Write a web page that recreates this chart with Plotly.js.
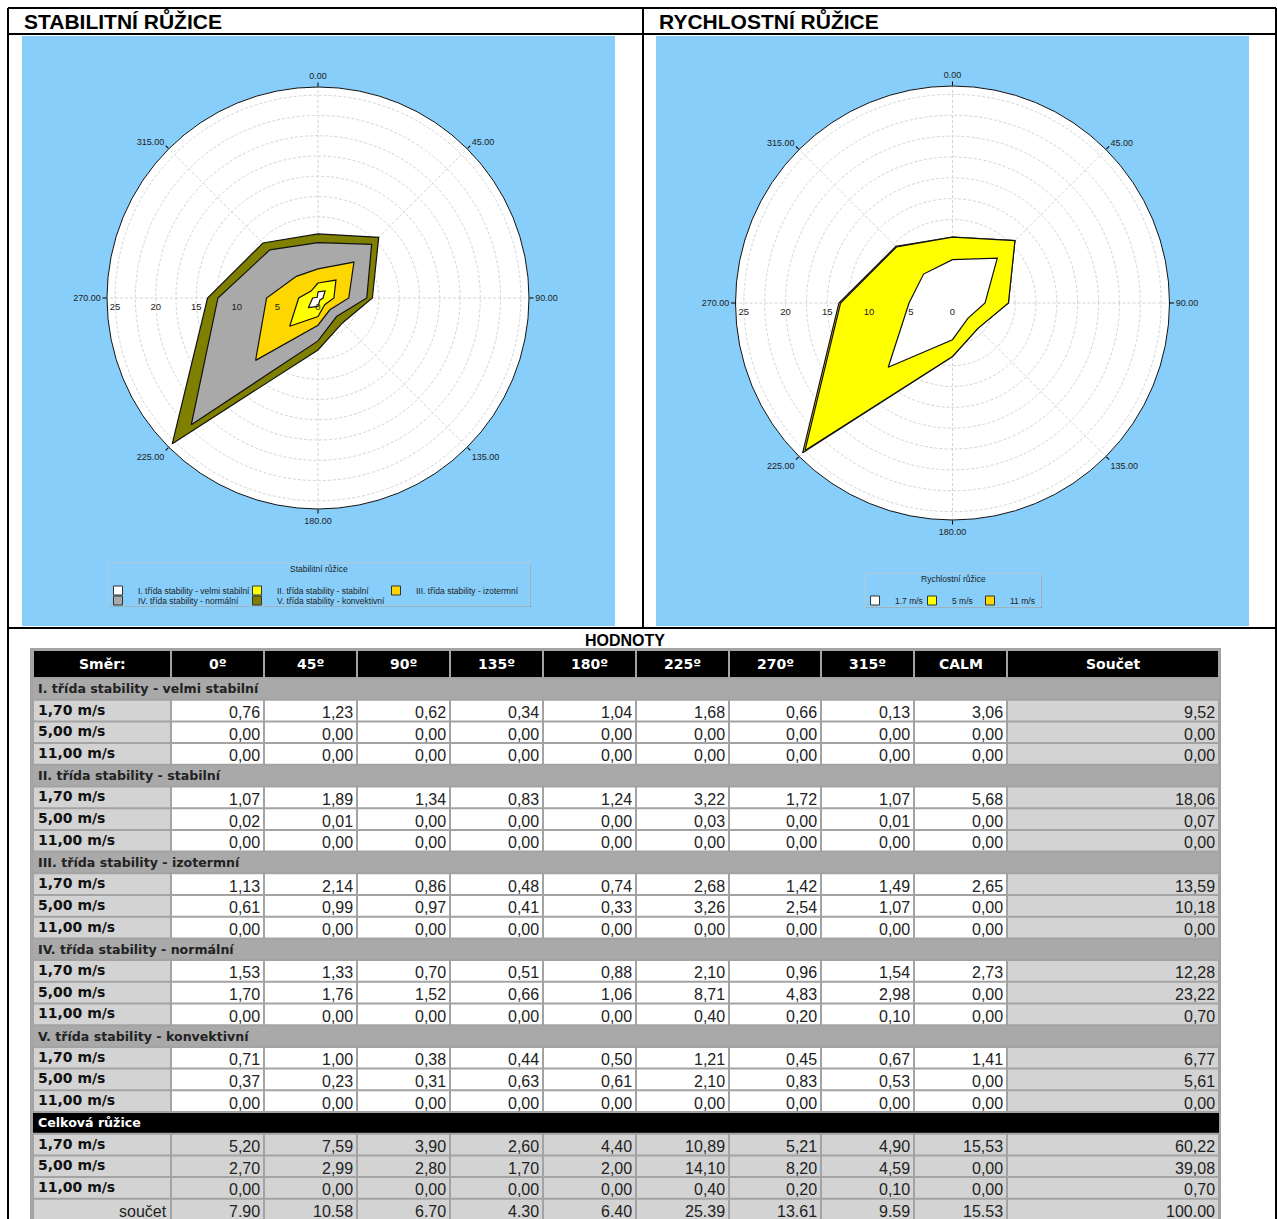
<!DOCTYPE html>
<html><head><meta charset="utf-8">
<script src="https://cdn.plot.ly/plotly-3.0.1.min.js"></script>
<style>html,body{margin:0;padding:0;background:#fff;} #chart{width:1277px;height:1219px;}</style>
</head><body><div id="chart"></div>
<script>
// ---------------- DATA ----------------
const directions = [0, 45, 90, 135, 180, 225, 270, 315];
const angularTickText = ['0.00', '45.00', '90.00', '135.00', '180.00', '225.00', '270.00', '315.00'];
const radialTickVals = [0, 2.5, 5, 7.5, 10, 12.5, 15, 17.5, 20, 22.5, 25];
const radialTickText = ['0', '', '5', '', '10', '', '15', '', '20', '', '25'];
const headerLabels = ['Směr:', '0º', '45º', '90º', '135º', '180º', '225º', '270º', '315º', 'CALM', 'Součet'];
const speedLabels = ['1,70 m/s', '5,00 m/s', '11,00 m/s'];
const speedLegend = ['1.7 m/s', '5 m/s', '11 m/s'];
const classNames = [
  'I. třída stability - velmi stabilní',
  'II. třída stability - stabilní',
  'III. třída stability - izotermní',
  'IV. třída stability - normální',
  'V. třída stability - konvektivní'
];
const stabilityTitle = 'Stabilitní růžice';
const speedTitle = 'Rychlostní růžice';
const totalName = 'Celková růžice';
const sumLabel = 'součet';
// rows: speeds 1.7, 5, 11 ; columns: 8 directions, CALM, Součet
const class1Values = [
  [0.76, 1.23, 0.62, 0.34, 1.04, 1.68, 0.66, 0.13, 3.06, 9.52],
  [0, 0, 0, 0, 0, 0, 0, 0, 0, 0],
  [0, 0, 0, 0, 0, 0, 0, 0, 0, 0]
];
const class2Values = [
  [1.07, 1.89, 1.34, 0.83, 1.24, 3.22, 1.72, 1.07, 5.68, 18.06],
  [0.02, 0.01, 0, 0, 0, 0.03, 0, 0.01, 0, 0.07],
  [0, 0, 0, 0, 0, 0, 0, 0, 0, 0]
];
const class3Values = [
  [1.13, 2.14, 0.86, 0.48, 0.74, 2.68, 1.42, 1.49, 2.65, 13.59],
  [0.61, 0.99, 0.97, 0.41, 0.33, 3.26, 2.54, 1.07, 0, 10.18],
  [0, 0, 0, 0, 0, 0, 0, 0, 0, 0]
];
const class4Values = [
  [1.53, 1.33, 0.70, 0.51, 0.88, 2.10, 0.96, 1.54, 2.73, 12.28],
  [1.70, 1.76, 1.52, 0.66, 1.06, 8.71, 4.83, 2.98, 0, 23.22],
  [0, 0, 0, 0, 0, 0.40, 0.20, 0.10, 0, 0.70]
];
const class5Values = [
  [0.71, 1.00, 0.38, 0.44, 0.50, 1.21, 0.45, 0.67, 1.41, 6.77],
  [0.37, 0.23, 0.31, 0.63, 0.61, 2.10, 0.83, 0.53, 0, 5.61],
  [0, 0, 0, 0, 0, 0, 0, 0, 0, 0]
];
const totalValues = [
  [5.20, 7.59, 3.90, 2.60, 4.40, 10.89, 5.21, 4.90, 15.53, 60.22],
  [2.70, 2.99, 2.80, 1.70, 2.00, 14.10, 8.20, 4.59, 0, 39.08],
  [0, 0, 0, 0, 0, 0.40, 0.20, 0.10, 0, 0.70]
];
const sumValues = [7.90, 10.58, 6.70, 4.30, 6.40, 25.39, 13.61, 9.59, 15.53, 100.00];

// ---------------- STYLE ----------------
const classColors = ['#ffffff', '#ffff00', '#ffd700', '#a9a9a9', '#808000'];
const speedColors = ['#ffffff', '#ffff00', '#ffd700'];
const W = 1277, H = 1219;
const px = x => x / W, py = y => 1 - y / H;
const SANS = 'Liberation Sans, Arial, sans-serif';
const TAHOMA = 'DejaVu Sans, Verdana, sans-serif';
const classValues = [class1Values, class2Values, class3Values, class4Values, class5Values];
// legend entry anchor positions (left edge of entry, top), in page pixels
const classLegendPos = [[98, 576], [237, 576], [376, 576], [98, 586], [237, 586]];
const speedLegendPos = [[855, 586], [912, 586], [970, 586]];

// ---------------- POLAR TRACES ----------------
const traces = [];
const close = a => a.concat([a[0]]);
const thetaClosed = close(directions);
const classTotals = classValues.map(cv => directions.map((d, i) => cv[0][i] + cv[1][i] + cv[2][i]));
const classCum = [];
classTotals.forEach((row, k) => classCum.push(row.map((v, i) => v + (k ? classCum[k - 1][i] : 0))));
for (let k = 4; k >= 0; k--) {
  traces.push({
    type: 'scatterpolar', subplot: 'polar', mode: 'lines', fill: 'toself',
    r: close(classCum[k]), theta: thetaClosed, name: classNames[k],
    fillcolor: classColors[k], line: {color: '#111', width: 1.2}, showlegend: false
  });
}
const legendName = i => i === 0 ? 'legend' : 'legend' + (i + 1);
classNames.forEach((n, k) => traces.push({
  type: 'scatterpolar', subplot: 'polar', mode: 'markers', r: [null], theta: [null], name: n,
  marker: {symbol: 'square', size: 9, color: classColors[k], line: {color: '#333', width: 1}},
  legend: legendName(k), hoverinfo: 'skip'
}));
const speedCum = [];
totalValues.forEach((row, s) => speedCum.push(directions.map((d, i) => row[i] + (s ? speedCum[s - 1][i] : 0))));
for (let s = 2; s >= 0; s--) {
  traces.push({
    type: 'scatterpolar', subplot: 'polar2', mode: 'lines', fill: 'toself',
    r: close(speedCum[s]), theta: thetaClosed, name: speedLegend[s],
    fillcolor: speedColors[s], line: {color: '#111', width: 1.2}, showlegend: false
  });
}
speedLegend.forEach((n, s) => traces.push({
  type: 'scatterpolar', subplot: 'polar2', mode: 'markers', r: [null], theta: [null], name: n,
  marker: {symbol: 'square', size: 9, color: speedColors[s], line: {color: '#333', width: 1}},
  legend: legendName(5 + s), hoverinfo: 'skip'
}));
traces.push({type: 'scatter', x: [30, 1221], y: [646, 1219], mode: 'markers', marker: {opacity: 0}, hoverinfo: 'skip', showlegend: false, xaxis: 'x', yaxis: 'y'});

// ---------------- POLAR LAYOUT ----------------
function polarCfg(x0, x1, y0, y1) {
  return {
    bgcolor: '#ffffff',
    domain: {x: [px(x0), px(x1)], y: [py(y1), py(y0)]},
    angularaxis: {
      direction: 'clockwise', rotation: 90, tickmode: 'array', tickvals: directions, ticktext: angularTickText,
      ticks: 'outside', ticklen: 4, tickcolor: '#000', showline: true, linecolor: '#111', linewidth: 1,
      gridcolor: '#d4d4d4', griddash: '3px,2px', tickfont: {family: SANS, size: 9, color: '#222'}
    },
    radialaxis: {
      range: [0, 26], angle: 180, tickangle: 180, side: 'counterclockwise', tickmode: 'array', tickvals: radialTickVals, ticktext: radialTickText,
      showline: false, ticks: '', gridcolor: '#d4d4d4', griddash: '3px,2px',
      tickfont: {family: SANS, size: 9.5, color: '#222'}
    }
  };
}

// ---------------- TABLE ----------------
const colEdges = [33, 171, 264, 357, 450, 543, 636, 729, 821, 914, 1007, 1219];
const headerY = [651, 677];
const rowTop = 678, rowH = 21.7;
const shapes = [];
const annotations = [];
const rect = (x0, x1, y0, y1, fill) => ({type: 'rect', xref: 'x', yref: 'y', x0, x1, y0, y1, fillcolor: fill, line: {width: 0}, layer: 'below'});
const txt = (x, y, text, font, xanchor) => ({xref: 'x', yref: 'y', x, y, text, showarrow: false, xanchor: xanchor || 'center', yanchor: 'middle', font});
const fmt = (v, sep) => v.toFixed(2).replace('.', sep);

shapes.push(rect(30, 1221, 648, 1225, '#a3a3a3'));
headerLabels.forEach((h, c) => {
  shapes.push(rect(colEdges[c] + 1, colEdges[c + 1] - 1, headerY[0], headerY[1], '#000000'));
  annotations.push(txt((colEdges[c] + colEdges[c + 1]) / 2, (headerY[0] + headerY[1]) / 2, '<b>' + h + '</b>', {family: TAHOMA, size: 14, color: '#ffffff'}));
});
let rowIndex = 0;
function sectionRow(label, fill, color) {
  const y0 = rowTop + rowIndex * rowH, y1 = y0 + rowH;
  shapes.push(rect(colEdges[0], colEdges[colEdges.length - 1], y0 + 1, y1 - 1, fill));
  annotations.push(txt(colEdges[0] + 3, (y0 + y1) / 2, '<b>' + label + '</b>', {family: TAHOMA, size: 12.6, color}, 'left'));
  rowIndex++;
}
function dataRow(label, values, allGray, sep, labelRight) {
  const y0 = rowTop + rowIndex * rowH, y1 = y0 + rowH;
  for (let c = 0; c < colEdges.length - 1; c++) {
    const fill = (c === 0 || c === colEdges.length - 2 || allGray) ? '#d3d3d3' : '#ffffff';
    shapes.push(rect(colEdges[c] + 1, colEdges[c + 1] - 1, y0 + 1, y1 - 1, fill));
  }
  if (labelRight) annotations.push(txt(colEdges[1] - 2, (y0 + y1) / 2 + 2, label, {family: SANS, size: 16, color: '#222'}, 'right'));
  else annotations.push(txt(colEdges[0] + 3, (y0 + y1) / 2 - 1, '<b>' + label + '</b>', {family: TAHOMA, size: 14, color: '#111'}, 'left'));
  values.forEach((v, i) => {
    annotations.push(txt(colEdges[i + 2] - 2, (y0 + y1) / 2 + 2, fmt(v, sep), {family: SANS, size: 16, color: '#222'}, 'right'));
  });
  rowIndex++;
}
classValues.forEach((cv, k) => {
  sectionRow(classNames[k], '#a9a9a9', '#222');
  cv.forEach((row, s) => dataRow(speedLabels[s], row, false, ','));
});
sectionRow(totalName, '#000000', '#ffffff');
totalValues.forEach((row, s) => dataRow(speedLabels[s], row, true, ','));
dataRow(sumLabel, sumValues, true, '.', true);

// ---------------- PAGE DECORATION ----------------
const paperRect = (x0, x1, y0, y1, fill, line) => ({type: 'rect', xref: 'paper', yref: 'paper', x0: px(x0), x1: px(x1), y0: py(y1), y1: py(y0), fillcolor: fill, line: line || {width: 0}, layer: 'below'});
const paperLine = (x0, y0, x1, y1) => ({type: 'line', xref: 'paper', yref: 'paper', x0: px(x0), x1: px(x1), y0: py(y0), y1: py(y1), line: {color: '#000', width: 2}, layer: 'above'});
shapes.unshift(
  paperRect(22, 615, 36, 626, '#87cefa'),
  paperRect(656, 1249, 36, 626, '#87cefa'),
  paperRect(109, 531, 564, 607, '#6f9fbd'),
  paperRect(108, 530, 563, 606, '#87cefa', {color: '#b5c9d6', width: 1}),
  paperRect(866, 1042, 574, 608, '#6f9fbd'),
  paperRect(865, 1041, 573, 607, '#87cefa', {color: '#b5c9d6', width: 1})
);
shapes.push(
  paperLine(8, 8, 1276, 8), paperLine(8, 8, 8, 1219), paperLine(1276, 8, 1276, 1219),
  paperLine(8, 34, 1276, 34), paperLine(8, 628, 1276, 628), paperLine(643, 8, 643, 628)
);
const legendFont = {family: SANS, size: 8.5, color: '#222'};
annotations.push(
  {xref: 'paper', yref: 'paper', x: px(22), y: py(20), xanchor: 'left', yanchor: 'middle', showarrow: false, text: '<b>STABILITNÍ RŮŽICE</b>', font: {family: SANS, size: 21, color: '#000'}},
  {xref: 'paper', yref: 'paper', x: px(657), y: py(20), xanchor: 'left', yanchor: 'middle', showarrow: false, text: '<b>RYCHLOSTNÍ RŮŽICE</b>', font: {family: SANS, size: 21, color: '#000'}},
  {xref: 'paper', yref: 'paper', x: px(625), y: py(640), xanchor: 'center', yanchor: 'middle', showarrow: false, text: '<b>HODNOTY</b>', font: {family: SANS, size: 16, color: '#000'}},
  {xref: 'paper', yref: 'paper', x: px(319), y: py(569), xanchor: 'center', yanchor: 'middle', showarrow: false, text: stabilityTitle, font: legendFont},
  {xref: 'paper', yref: 'paper', x: px(953), y: py(579), xanchor: 'center', yanchor: 'middle', showarrow: false, text: speedTitle, font: legendFont}
);

const layout = {
  width: W, height: H, margin: {l: 0, r: 0, t: 0, b: 0}, paper_bgcolor: '#ffffff', plot_bgcolor: 'rgba(0,0,0,0)',
  polar: polarCfg(107, 529, 87, 509),
  polar2: polarCfg(735.5, 1169.5, 86, 520),
  xaxis: {domain: [px(30), px(1221)], range: [30, 1221], visible: false, fixedrange: true},
  yaxis: {domain: [0, py(646)], range: [1219, 646], visible: false, fixedrange: true},
  shapes, annotations, showlegend: true
};
classLegendPos.concat(speedLegendPos).forEach((p, i) => {
  layout[legendName(i)] = {x: px(p[0]), y: py(p[1]), xanchor: 'left', yanchor: 'top', orientation: 'h',
    bgcolor: 'rgba(0,0,0,0)', borderwidth: 0, font: legendFont, itemwidth: 30};
});
Plotly.newPlot('chart', traces, layout, {displayModeBar: false, staticPlot: true});
</script></body></html>
